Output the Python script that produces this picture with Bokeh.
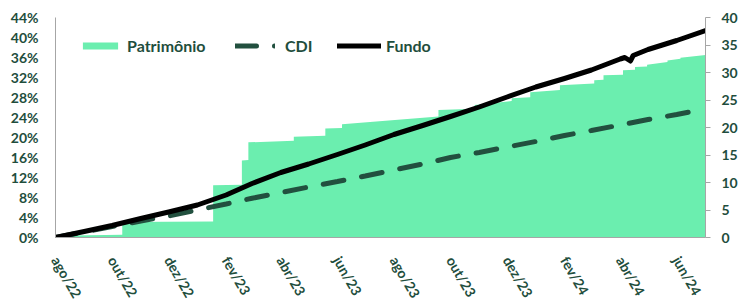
from datetime import datetime
from bokeh.plotting import figure
from bokeh.models import (Range1d, LinearAxis, FixedTicker, PrintfTickFormatter,
                          CustomJSTickFormatter, Legend, LegendItem)
from bokeh.embed import file_html
from bokeh.resources import INLINE

# ---------------- data ----------------
fundo_dates = ["2022-08-01", "2022-09-01", "2022-10-01", "2022-11-01", "2022-12-01",
               "2023-01-01", "2023-02-01", "2023-03-01", "2023-04-01", "2023-05-01",
               "2023-06-01", "2023-07-01", "2023-08-01", "2023-09-01", "2023-10-01",
               "2023-11-01", "2023-12-01", "2024-01-01", "2024-02-01", "2024-03-01",
               "2024-04-01", "2024-04-06", "2024-04-12", "2024-04-15", "2024-05-01",
               "2024-06-01", "2024-07-02"]
fundo_pct = [0.0, 1.2, 2.4, 3.8, 5.1, 6.5, 8.5, 10.8, 13.0, 14.7, 16.6, 18.5, 20.6,
             22.4, 24.2, 26.1, 28.1, 30.1, 31.8, 33.5, 35.7, 36.0, 35.3, 36.4, 37.6,
             39.4, 41.4]

cdi_dates = ["2022-08-01", "2022-09-01", "2022-10-01", "2022-11-01", "2022-12-01",
             "2023-01-01", "2023-02-01", "2023-03-01", "2023-04-01", "2023-05-01",
             "2023-06-01", "2023-07-01", "2023-08-01", "2023-09-01", "2023-10-01",
             "2023-11-01", "2023-12-01", "2024-01-01", "2024-02-01", "2024-03-01",
             "2024-04-01", "2024-05-01", "2024-06-01", "2024-07-02"]
cdi_pct = [0.0, 1.1, 2.2, 3.3, 4.3, 5.5, 6.7, 7.85, 9.0, 10.1, 11.2, 12.3, 13.5,
           14.7, 16.0, 17.0, 18.1, 19.2, 20.4, 21.4, 22.5, 23.6, 24.6, 25.7]

pat_dates = ["2022-08-01", "2022-10-12", "2022-10-12", "2023-01-18", "2023-01-18",
             "2023-02-18", "2023-02-18", "2023-02-25", "2023-02-25", "2023-04-15",
             "2023-04-15", "2023-05-19", "2023-05-19", "2023-06-06", "2023-06-06",
             "2023-09-18", "2023-09-18", "2023-10-27", "2023-10-27", "2023-12-06",
             "2023-12-06", "2023-12-26", "2023-12-26", "2024-01-27", "2024-01-27",
             "2024-03-04", "2024-03-04", "2024-03-14", "2024-03-14", "2024-04-04",
             "2024-04-04", "2024-04-17", "2024-04-17", "2024-04-30", "2024-04-30",
             "2024-05-22", "2024-05-22", "2024-06-05", "2024-06-05", "2024-07-02"]
pat_values = [0.3, 0.5, 2.8, 2.9, 9.5, 9.6, 14.0, 14.1, 17.3, 17.6,
              18.3, 18.5, 19.8, 19.9, 20.6, 22.0, 23.2, 23.4, 24.1, 24.8,
              25.3, 25.5, 26.4, 26.8, 27.7, 28.0, 28.6, 28.7, 29.5, 29.6,
              30.4, 30.5, 31.0, 31.1, 31.4, 31.9, 32.2, 32.5, 32.7, 33.2]

tick_dates = ["2022-08-01", "2022-10-01", "2022-12-01", "2023-02-01", "2023-04-01",
              "2023-06-01", "2023-08-01", "2023-10-01", "2023-12-01", "2024-02-01",
              "2024-04-01", "2024-06-01"]
tick_labels = ["ago/22", "out/22", "dez/22", "fev/23", "abr/23", "jun/23",
               "ago/23", "out/23", "dez/23", "fev/24", "abr/24", "jun/24"]
left_ticks = [0, 4, 8, 12, 16, 20, 24, 28, 32, 36, 40, 44]
right_ticks = [0, 5, 10, 15, 20, 25, 30, 35, 40]

# ---------------- helpers ----------------
EPOCH = datetime(1970, 1, 1)
def to_dt(s):
    return datetime.strptime(s, "%Y-%m-%d")
def to_ms(s):
    return (to_dt(s) - EPOCH).total_seconds() * 1000.0

TXT = "#1F4E3D"
GREEN = "#6BEEAF"
CDI_C = "#22503F"
AXIS_C = "#A6A6A6"
FONT = "Lato"

p = figure(frame_width=650, frame_height=220, x_axis_type="datetime",
           x_range=Range1d(to_dt("2022-08-01"), to_dt("2024-07-02")),
           y_range=Range1d(0, 44),
           output_backend="svg", toolbar_location=None,
           min_border_left=55, min_border_right=27, min_border_top=17,
           min_border_bottom=10)
p.extra_y_ranges = {"pat": Range1d(0, 40)}
p.outline_line_color = None
p.xgrid.visible = False
p.ygrid.visible = False
p.background_fill_color = "white"
p.border_fill_color = "white"

r_pat = p.varea(x=[to_dt(d) for d in pat_dates], y1=[0] * len(pat_values), y2=pat_values,
                fill_color=GREEN, y_range_name="pat")
r_cdi = p.line(x=[to_dt(d) for d in cdi_dates], y=cdi_pct, line_color=CDI_C,
               line_width=5, line_dash="21 18", line_cap="round")
r_fun = p.line(x=[to_dt(d) for d in fundo_dates], y=fundo_pct, line_color="black",
               line_width=5, line_join="round", line_cap="round")

# left axis
ya = p.yaxis[0]
ya.ticker = FixedTicker(ticks=left_ticks)
ya.formatter = PrintfTickFormatter(format="%d%%")
ya.axis_line_color = AXIS_C
ya.major_tick_line_color = None
ya.minor_tick_line_color = None
ya.major_tick_out = 0
ya.major_tick_in = 0
ya.major_label_standoff = 17
ya.major_label_text_font = FONT
ya.major_label_text_font_style = "bold"
ya.major_label_text_font_size = "14px"
ya.major_label_text_color = TXT

# right axis
ra = LinearAxis(y_range_name="pat", ticker=FixedTicker(ticks=right_ticks))
ra.axis_line_color = AXIS_C
ra.major_tick_line_color = AXIS_C
ra.major_tick_out = 5
ra.major_tick_in = 0
ra.minor_tick_line_color = None
ra.major_label_standoff = 11
ra.major_label_text_font = FONT
ra.major_label_text_font_style = "bold"
ra.major_label_text_font_size = "14px"
ra.major_label_text_color = TXT
p.add_layout(ra, "right")

# bottom axis
xa = p.xaxis[0]
xa.ticker = FixedTicker(ticks=[to_ms(d) for d in tick_dates])
xa.formatter = CustomJSTickFormatter(
    args=dict(tms=[to_ms(d) for d in tick_dates], labels=tick_labels),
    code="""
    for (let i = 0; i < tms.length; i++) {
        if (Math.abs(tms[i] - tick) < 1000) { return labels[i]; }
    }
    return "";
    """)
xa.axis_line_color = AXIS_C
xa.major_tick_line_color = None
xa.minor_tick_line_color = None
xa.major_tick_out = 0
xa.major_tick_in = 0
xa.major_label_orientation = -1.047
xa.major_label_standoff = 20
xa.major_label_text_font = FONT
xa.major_label_text_font_style = "bold"
xa.major_label_text_font_size = "14px"
xa.major_label_text_color = TXT

def add_legend(label, rend, x_rel, gw, standoff):
    lg = Legend(items=[LegendItem(label=label, renderers=[rend])],
                location=(x_rel, 182.5), orientation="horizontal")
    lg.margin = 0
    lg.padding = 0
    lg.glyph_width = gw
    lg.glyph_height = 9
    lg.label_standoff = standoff
    lg.label_text_font = FONT
    lg.label_text_font_style = "bold"
    lg.label_text_font_size = "16px"
    lg.label_text_color = TXT
    lg.border_line_color = None
    lg.background_fill_alpha = 0
    p.add_layout(lg)

add_legend("Patrimônio", r_pat, 23, 44, 5)
add_legend("CDI", r_cdi, 180, 40, 10)
add_legend("Fundo", r_fun, 282, 44, 5)

open("out.html", "w").write(file_html(p, INLINE))
